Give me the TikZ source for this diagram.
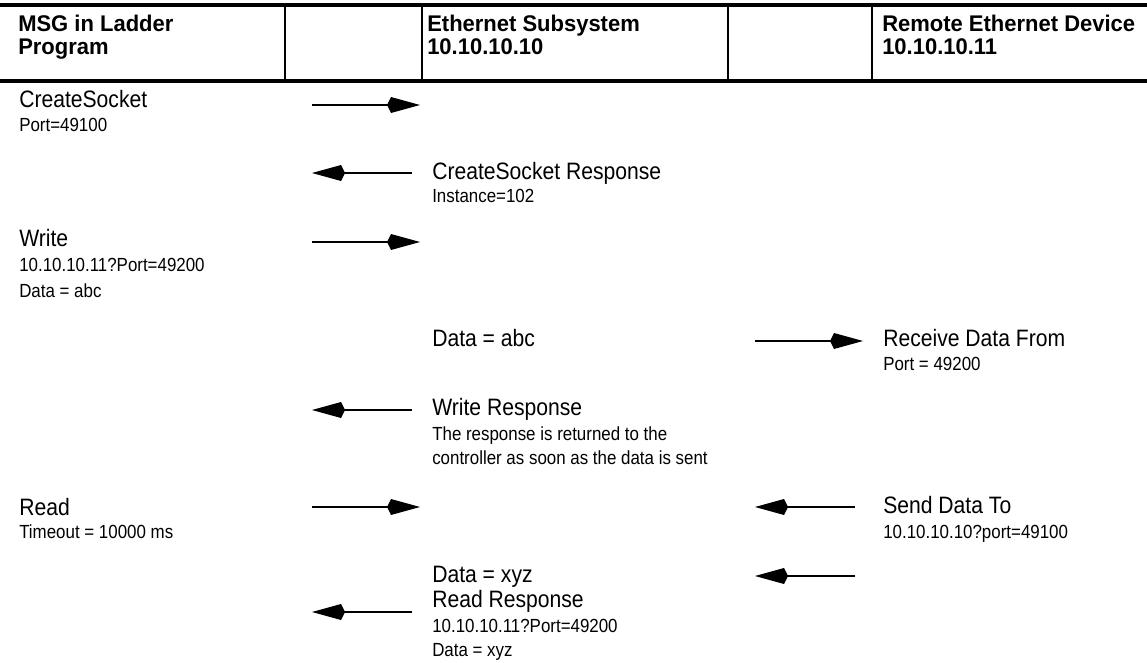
\documentclass[tikz,border=0pt]{standalone}
\usepackage{fontspec}
\setmainfont{Liberation Sans}
\newfontfamily\bodyfont{Liberation Sans}[FakeStretch=0.89]
\newfontfamily\hdrfont{Liberation Sans}[FakeStretch=0.97]
\usetikzlibrary{arrows.meta}
\tikzset{
  hdr/.style={font=\hdrfont\bfseries\fontsize{17}{20}\selectfont, anchor=base west, inner sep=0pt},
  big/.style={font=\bodyfont\fontsize{17.8}{21}\selectfont, anchor=base west, inner sep=0pt},
  sml/.style={font=\bodyfont\fontsize{14.25}{17}\selectfont, anchor=base west, inner sep=0pt},
  rulebar/.style={line width=2.5pt},
  divider/.style={line width=1.1pt},
  msg/.style={line width=1.5pt, -{Kite[length=24.75pt,width=12pt,inset=3pt]}},
}
\begin{document}
\begin{tikzpicture}[x=0.75pt,y=-0.75pt]
\useasboundingbox (0,0) rectangle (1147,663);
% header rules
\coordinate (tl) at (0,5);   \coordinate (tr) at (1147,5);
\coordinate (bl) at (0,81);  \coordinate (br) at (1147,81);
\draw[rulebar] (tl) -- (tr);
\draw[rulebar] (bl) -- (br);
\foreach \x/\n in {285/d1,422/d2,728/d3,872/d4}{
  \coordinate (\n t) at (\x,5); \coordinate (\n b) at (\x,81);
  \draw[divider] (\n t) -- (\n b);
}
% header text
\node[hdr] (h1a) at (18,32) {MSG in Ladder};
\node[hdr] (h1b) at (18,55) {Program};
\node[hdr] (h2a) at (427,32) {Ethernet Subsystem};
\node[hdr] (h2b) at (427,55) {10.10.10.10};
\node[hdr] (h3a) at (882,32) {Remote Ethernet Device};
\node[hdr] (h3b) at (882,55) {10.10.10.11};
% row 1
\node[big] (cs) at (19,108) {CreateSocket};
\node[sml] (csp) at (19,132) {Port=49100};
\coordinate (a1s) at (312,105); \coordinate (a1e) at (420,105);
\draw[msg] (a1s) -- (a1e);
% row 2
\node[big] (csr) at (432,180) {CreateSocket Response};
\node[sml] (csri) at (432,203) {Instance=102};
\coordinate (a2s) at (412,173); \coordinate (a2e) at (312,173);
\draw[msg] (a2s) -- (a2e);
% row 3
\node[big] (wr) at (19,247) {Write};
\node[sml] (wra) at (19,272) {10.10.10.11?Port=49200};
\node[sml] (wrd) at (19,297) {Data = abc};
\coordinate (a3s) at (312,242); \coordinate (a3e) at (420,242);
\draw[msg] (a3s) -- (a3e);
% row 4
\node[big] (dabc) at (432,346) {Data = abc};
\node[big] (rdf) at (883,346) {Receive Data From};
\node[sml] (rdfp) at (883,370) {Port = 49200};
\coordinate (a4s) at (755,341); \coordinate (a4e) at (863,341);
\draw[msg] (a4s) -- (a4e);
% row 5
\node[big] (wresp) at (432,415) {Write Response};
\node[sml] (wr1) at (432,440) {The response is returned to the};
\node[sml] (wr2) at (432,464) {controller as soon as the data is sent};
\coordinate (a5s) at (412,410); \coordinate (a5e) at (312,410);
\draw[msg] (a5s) -- (a5e);
% row 6
\node[big] (rd) at (19,515) {Read};
\node[sml] (rdt) at (19,538) {Timeout = 10000 ms};
\coordinate (a6s) at (312,507); \coordinate (a6e) at (420,507);
\draw[msg] (a6s) -- (a6e);
\node[big] (sdt) at (883,513) {Send Data To};
\node[sml] (sdta) at (883,538) {10.10.10.10?port=49100};
\coordinate (a7s) at (855,507); \coordinate (a7e) at (755,507);
\draw[msg] (a7s) -- (a7e);
% row 7
\node[big] (dxyz) at (432,582) {Data = xyz};
\node[big] (rresp) at (432,607) {Read Response};
\node[sml] (rra) at (432,632) {10.10.10.11?Port=49200};
\node[sml] (rrd) at (432,656) {Data = xyz};
\coordinate (a8s) at (855,576); \coordinate (a8e) at (755,576);
\draw[msg] (a8s) -- (a8e);
\coordinate (a9s) at (412,612); \coordinate (a9e) at (312,612);
\draw[msg] (a9s) -- (a9e);
\end{tikzpicture}
\end{document}
